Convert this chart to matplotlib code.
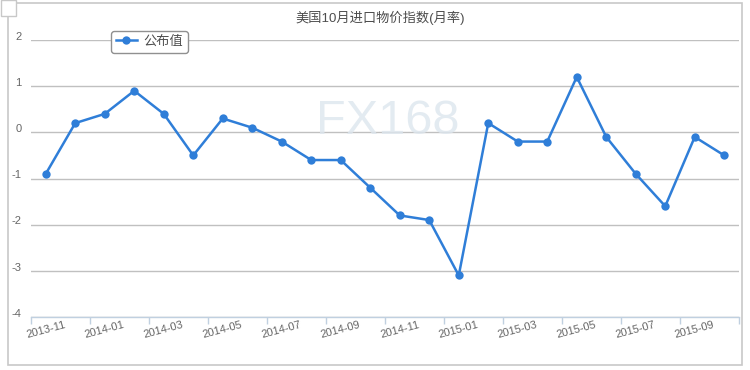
import matplotlib
matplotlib.use("Agg")
import matplotlib.pyplot as plt
from matplotlib.lines import Line2D
from matplotlib.patches import Rectangle
import matplotlib.transforms as mtransforms

plt.rcParams['font.family'] = ['Liberation Sans', 'Noto Sans CJK SC', 'DejaVu Sans']

title = "美国10月进口物价指数(月率)"
series_name = "公布值"
months = ["2013-11", "2013-12", "2014-01", "2014-02", "2014-03", "2014-04",
          "2014-05", "2014-06", "2014-07", "2014-08", "2014-09", "2014-10",
          "2014-11", "2014-12", "2015-01", "2015-02", "2015-03", "2015-04",
          "2015-05", "2015-06", "2015-07", "2015-08", "2015-09", "2015-10"]
values = [-0.9, 0.2, 0.4, 0.9, 0.4, -0.5,
          0.3, 0.1, -0.2, -0.6, -0.6, -1.2,
          -1.8, -1.9, -3.1, 0.2, -0.2, -0.2,
          1.2, -0.1, -0.9, -1.6, -0.1, -0.5]
y_ticks = [-4, -3, -2, -1, 0, 1, 2]

W, H = 750, 370
fig = plt.figure(figsize=(W / 100, H / 100), dpi=100)
fig.patch.set_facecolor('white')

# outer frame
fig.patches.append(Rectangle((8 / W, 1 - 365 / H), (742 - 8) / W, (365 - 3) / H,
                             transform=fig.transFigure, fill=False,
                             edgecolor='#c8c8c8', linewidth=1.2))
fig.patches.append(Rectangle((0.5 / W, 1 - 16 / H), 15 / W, 15.5 / H,
                             transform=fig.transFigure, facecolor='white',
                             edgecolor='#c8c8c8', linewidth=1))

left, right, top, bottom = 31, 739, 40, 317
ax = fig.add_axes([left / W, 1 - bottom / H, (right - left) / W, (bottom - top) / H])
ax.set_facecolor('none')

x = list(range(len(months)))
ax.plot(x, values, color='#2F7ED8', linewidth=1.8, marker='o', markersize=6,
        markeredgewidth=0, zorder=3, clip_on=False)

ax.set_xlim(-0.5, len(months) - 0.5)
ax.set_ylim(min(y_ticks), max(y_ticks))

# y axis
ax.set_yticks(y_ticks)
ax.set_yticklabels([str(v) for v in y_ticks])
ax.tick_params(axis='y', length=0, pad=7, labelsize=8, labelcolor='#666666')
offset = mtransforms.ScaledTranslation(0, 3 / 72, fig.dpi_scale_trans)
for lab in ax.get_yticklabels():
    lab.set_transform(lab.get_transform() + offset)
ax.grid(axis='y', color='#C0C0C0', linewidth=1)
ax.set_axisbelow(True)

# x axis: boundary ticks every 2 categories, labels at category centres
ax.set_xticks([i - 0.5 for i in range(0, len(months) + 1, 2)])
ax.set_xticklabels([])
ax.tick_params(axis='x', which='major', length=5, color='#C0D0E0', width=1)
ax.set_xticks(x[::2], minor=True)
ax.set_xticklabels(months[::2], minor=True, rotation=15, ha='center', va='top')
ax.tick_params(axis='x', which='minor', length=0, pad=2, labelsize=8,
               labelcolor='#666666')

for s in ['top', 'right', 'left']:
    ax.spines[s].set_visible(False)
ax.spines['bottom'].set_color('#C0D0E0')
ax.spines['bottom'].set_linewidth(1)

# watermark
fig.text(388 / W, 1 - 122 / H, "FX168", fontsize=35, color='#dde6ee',
         ha='center', va='center', alpha=0.8, zorder=0)

# title
fig.text(380 / W, 1 - 18 / H, title, fontsize=9.5, color='#4d4d4d',
         ha='center', va='center')

# legend
handle = Line2D([0], [0], color='#2F7ED8', linewidth=1.8, marker='o',
                markersize=6, markeredgewidth=0)
leg = fig.legend([handle], [series_name], loc='upper left',
                 bbox_to_anchor=(111 / W, 1 - 31 / H), fontsize=9.5,
                 frameon=True, fancybox=True, framealpha=1,
                 edgecolor='#909090', handlelength=1.6, handletextpad=0.5,
                 borderpad=0.35, borderaxespad=0)
leg.get_frame().set_linewidth(1)
for t in leg.get_texts():
    t.set_color('#4d4d4d')

fig.savefig('out.png', dpi=100)
